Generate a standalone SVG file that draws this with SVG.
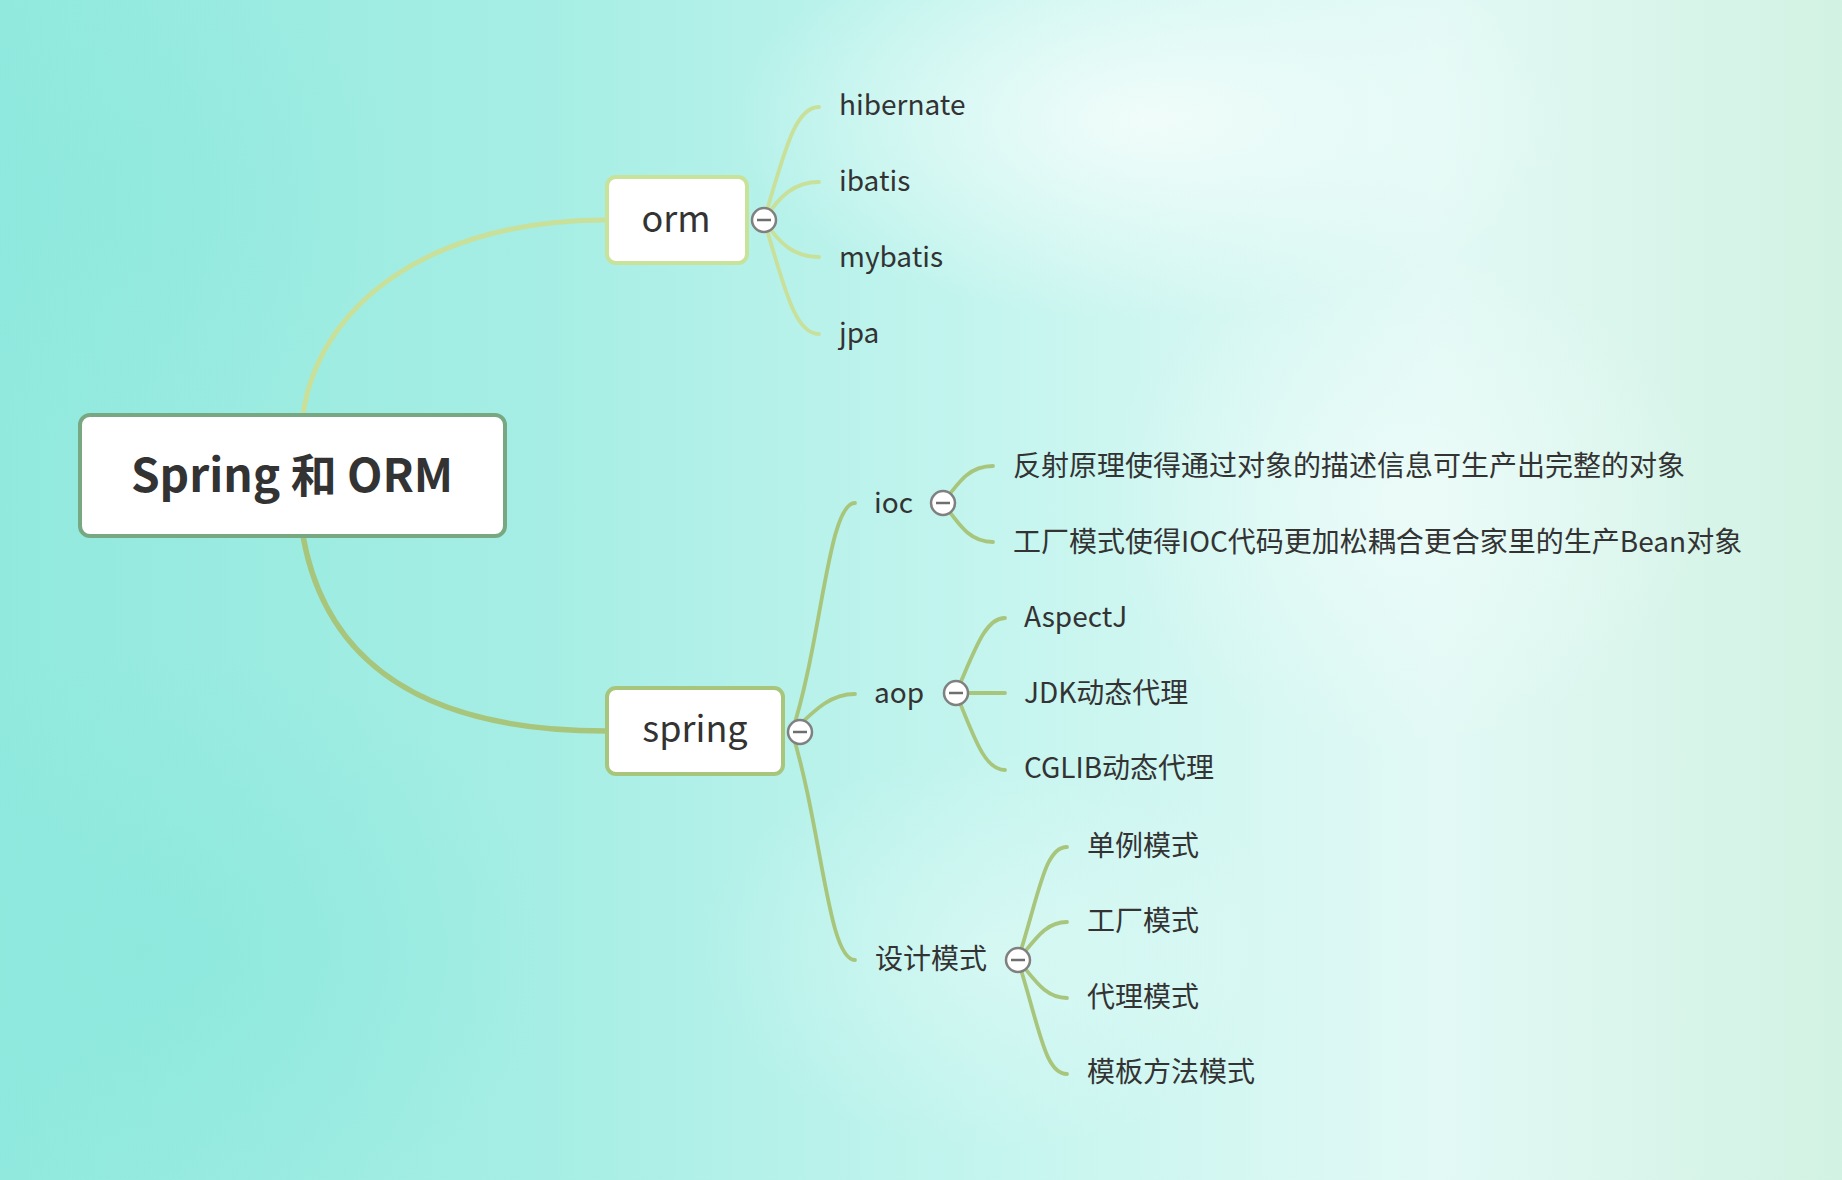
<svg xmlns="http://www.w3.org/2000/svg" width="1842" height="1180" viewBox="0 0 1842 1180">
<defs>
<linearGradient id="bg" x1="0" y1="0" x2="1" y2="0">
<stop offset="0" stop-color="#91e9de"/>
<stop offset="0.3" stop-color="#a6eee5"/>
<stop offset="0.55" stop-color="#c6f5ef"/>
<stop offset="0.78" stop-color="#e2f9f5"/>
<stop offset="1" stop-color="#d2f2e3"/>
</linearGradient>
<radialGradient id="hl" cx="0.5" cy="0.5" r="0.5">
<stop offset="0" stop-color="#f4fdfb" stop-opacity="0.9"/>
<stop offset="1" stop-color="#f4fdfb" stop-opacity="0"/>
</radialGradient>
<radialGradient id="dk" cx="0.5" cy="0.5" r="0.5">
<stop offset="0" stop-color="#8ce8dc" stop-opacity="0.8"/>
<stop offset="1" stop-color="#8ce8dc" stop-opacity="0"/>
</radialGradient>
<style>
.t{font-family:"Noto Sans CJK SC","Noto Sans",sans-serif;fill:#333333;}
.sub{font-size:28px;}
.main{font-size:36px;}
.root{font-size:46px;font-weight:bold;}
.lo{fill:none;stroke:#c8e09a;stroke-width:3.8;stroke-linecap:round;}
.ls{fill:none;stroke:#a8c57c;stroke-width:3.8;stroke-linecap:round;}
.btn circle{fill:#ffffff;stroke:#808080;stroke-width:2.5;}
.btn line{stroke:#6e6e6e;stroke-width:2.5;}
</style>
</defs>
<rect width="1842" height="1180" fill="url(#bg)"/>
<ellipse cx="1150" cy="120" rx="420" ry="200" fill="url(#hl)"/>
<ellipse cx="1400" cy="500" rx="300" ry="250" fill="url(#hl)" opacity="0.6"/>
<ellipse cx="1000" cy="950" rx="300" ry="200" fill="url(#hl)" opacity="0.4"/>
<ellipse cx="150" cy="950" rx="400" ry="300" fill="url(#dk)"/>
<ellipse cx="100" cy="200" rx="300" ry="250" fill="url(#dk)" opacity="0.6"/>

<g id="connectors">
<path d="M 303 415 C 318 305, 430 220, 606 220" fill="none" stroke="#c8e09a" stroke-width="5"/>
<path d="M 303 536 C 325 660, 420 731, 606 731" fill="none" stroke="#a8c57c" stroke-width="5.5"/>
<path class="lo" d="M 764 220 C 785 150, 795 107, 819 107"/>
<path class="lo" d="M 764 220 C 780 195, 795 182, 819 182"/>
<path class="lo" d="M 764 220 C 780 245, 795 257, 819 257"/>
<path class="lo" d="M 764 220 C 785 290, 795 334, 819 334"/>
<path class="ls" d="M 792 732 C 822 640, 828 503, 855 503"/>
<path class="ls" d="M 792 732 C 815 710, 830 694, 855 694"/>
<path class="ls" d="M 792 732 C 822 830, 828 960, 855 960"/>
<path class="ls" d="M 943 503 C 960 480, 970 466, 993 466"/>
<path class="ls" d="M 943 503 C 960 526, 970 542, 993 542"/>
<path class="ls" d="M 956 693 C 975 650, 985 618, 1005 618"/>
<path class="ls" d="M 956 693 L 1005 693"/>
<path class="ls" d="M 956 693 C 975 740, 985 770, 1005 770"/>
<path class="ls" d="M 1018 960 C 1040 890, 1045 847, 1067 847"/>
<path class="ls" d="M 1018 960 C 1035 940, 1045 922, 1067 922"/>
<path class="ls" d="M 1018 960 C 1035 980, 1045 998, 1067 998"/>
<path class="ls" d="M 1018 960 C 1040 1030, 1045 1074, 1067 1074"/>
</g>

<g id="root">
<rect x="80" y="415" width="425" height="121" rx="10" fill="#ffffff" stroke="#78a882" stroke-width="4"/>
<text class="t root" x="292" y="492" text-anchor="middle">Spring 和 ORM</text>
</g>

<g id="orm">
<rect x="607" y="177" width="140" height="86" rx="9" fill="#ffffff" stroke="#c8e29a" stroke-width="4"/>
<text class="t main" x="676" y="232" text-anchor="middle">orm</text>
<g class="btn"><circle cx="764" cy="220" r="12"/><line x1="757" y1="220" x2="771" y2="220"/></g>
</g>

<g id="spring">
<rect x="607" y="688" width="176" height="86" rx="9" fill="#ffffff" stroke="#a8c57c" stroke-width="4"/>
<text class="t main" x="695" y="742" text-anchor="middle">spring</text>
<g class="btn"><circle cx="800" cy="732" r="12"/><line x1="793" y1="732" x2="807" y2="732"/></g>
</g>

<g id="hibernate"><text class="t sub" x="839" y="115">hibernate</text></g>
<g id="ibatis"><text class="t sub" x="839" y="191">ibatis</text></g>
<g id="mybatis"><text class="t sub" x="839" y="267">mybatis</text></g>
<g id="jpa"><text class="t sub" x="839" y="343">jpa</text></g>

<g id="ioc">
<text class="t sub" x="874" y="513">ioc</text>
<g class="btn"><circle cx="943" cy="503" r="12"/><line x1="936" y1="503" x2="950" y2="503"/></g>
</g>
<g id="ioc1"><text class="t sub" x="1013" y="476">反射原理使得通过对象的描述信息可生产出完整的对象</text></g>
<g id="ioc2"><text class="t sub" x="1013" y="552">工厂模式使得IOC代码更加松耦合更合家里的生产Bean对象</text></g>

<g id="aop">
<text class="t sub" x="874" y="703">aop</text>
<g class="btn"><circle cx="956" cy="693" r="12"/><line x1="949" y1="693" x2="963" y2="693"/></g>
</g>
<g id="aspectj"><text class="t sub" x="1024" y="627">AspectJ</text></g>
<g id="jdk"><text class="t sub" x="1024" y="703">JDK动态代理</text></g>
<g id="cglib"><text class="t sub" x="1024" y="778">CGLIB动态代理</text></g>

<g id="design">
<text class="t sub" x="875" y="969">设计模式</text>
<g class="btn"><circle cx="1018" cy="960" r="12"/><line x1="1011" y1="960" x2="1025" y2="960"/></g>
</g>
<g id="d1"><text class="t sub" x="1087" y="856">单例模式</text></g>
<g id="d2"><text class="t sub" x="1087" y="931">工厂模式</text></g>
<g id="d3"><text class="t sub" x="1087" y="1007">代理模式</text></g>
<g id="d4"><text class="t sub" x="1087" y="1082">模板方法模式</text></g>
</svg>
